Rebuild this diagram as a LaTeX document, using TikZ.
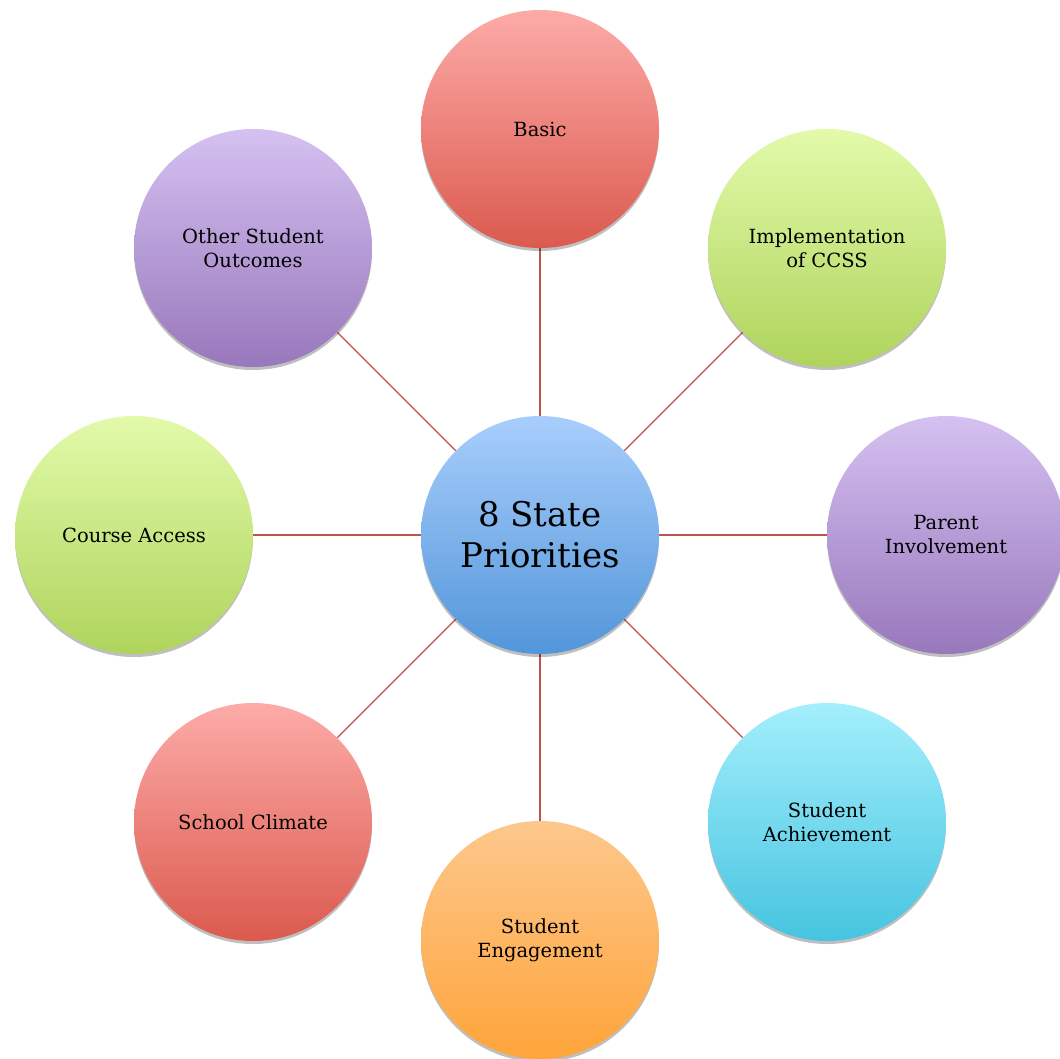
\documentclass[tikz,border=0pt]{standalone}
\usepackage{fontspec}
\setmainfont{DejaVu Serif}
\usetikzlibrary{shadows,backgrounds}
\definecolor{redT}{HTML}{FDABA8}\definecolor{redB}{HTML}{DB5A4E}
\definecolor{grnT}{HTML}{E2FAAA}\definecolor{grnB}{HTML}{AFD45C}
\definecolor{purT}{HTML}{D5C1F1}\definecolor{purB}{HTML}{9878BC}
\definecolor{bluT}{HTML}{A9CEFC}\definecolor{bluB}{HTML}{5296DA}
\definecolor{cyaT}{HTML}{A4EFFC}\definecolor{cyaB}{HTML}{46C4E0}
\definecolor{orgT}{HTML}{FDC88D}\definecolor{orgB}{HTML}{FEA43A}
\definecolor{linkred}{HTML}{C0504D}
\tikzset{
  bubble/.style={circle, minimum size=238pt, inner sep=0pt, align=center,
    font=\fontsize{19.5}{24}\selectfont,
    drop shadow={shadow xshift=0pt, shadow yshift=-3pt, opacity=0.25, fill=black}},
  redc/.style={bubble, top color=redT, bottom color=redB},
  grnc/.style={bubble, top color=grnT, bottom color=grnB},
  purc/.style={bubble, top color=purT, bottom color=purB},
  bluc/.style={bubble, top color=bluT, bottom color=bluB, font=\fontsize{34}{41}\selectfont},
  cyac/.style={bubble, top color=cyaT, bottom color=cyaB},
  orgc/.style={bubble, top color=orgT, bottom color=orgB},
  link/.style={draw=linkred, line width=1.4pt}
}
\begin{document}
\begin{tikzpicture}[x=1pt,y=-1pt]
\useasboundingbox (0,0) rectangle (1060,1059);
\clip (0,0) rectangle (1060,1059);
\node[bluc] (c) at (540,535) {8 State\\Priorities};
\node[redc] (basic) at (540,129) {Basic};
\node[grnc] (impl) at (827,248) {Implementation\\of CCSS};
\node[purc] (parent) at (946,535) {Parent\\Involvement};
\node[cyac] (ach) at (827,822) {Student\\Achievement};
\node[orgc] (eng) at (540,940) {Student\\Engagement};
\node[redc] (climate) at (253,822) {School Climate};
\node[grnc] (course) at (134,535) {Course Access};
\node[purc] (other) at (253,248) {Other Student\\Outcomes};
\begin{scope}[on background layer]
\fill[white] (0,0) rectangle (1060,1059);
\foreach \n in {basic,impl,parent,ach,eng,climate,course,other}
  \draw[link] (c) -- (\n);
\end{scope}
\end{tikzpicture}
\end{document}
